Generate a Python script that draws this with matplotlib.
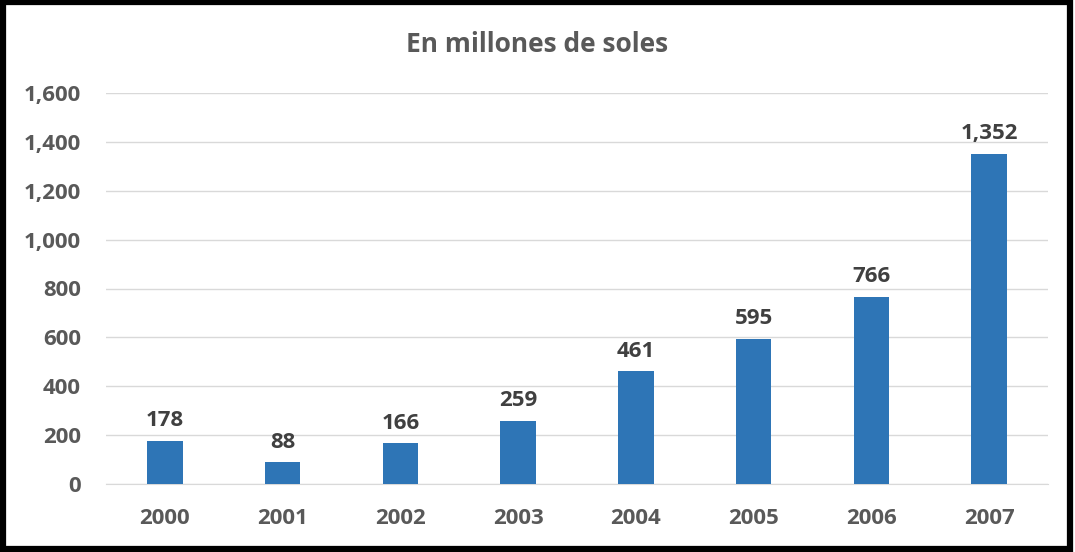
import matplotlib
matplotlib.use("Agg")
import matplotlib.pyplot as plt
from matplotlib.patches import Rectangle

years = ["2000", "2001", "2002", "2003", "2004", "2005", "2006", "2007"]
values = [178, 88, 166, 259, 461, 595, 766, 1352]
yticks = [0, 200, 400, 600, 800, 1000, 1200, 1400, 1600]

plt.rcParams["font.family"] = ["Open Sans", "DejaVu Sans"]
text_color = "#595959"
bar_color = "#2E75B6"

fig = plt.figure(figsize=(10.75, 5.52), dpi=100)
ax = fig.add_axes([106 / 1075, 1 - 484 / 552, (1048 - 106) / 1075, (484 - 93) / 552])

x = range(len(years))
ax.bar(x, values, width=0.30, color=bar_color, zorder=3)
for xi, v in zip(x, values):
    ax.annotate(f"{v:,}", (xi, v), xytext=(0, 7), textcoords="offset points",
                ha="center", va="bottom", fontsize=16, fontweight="bold",
                color="#404040")

ax.set_xlim(-0.5, len(years) - 0.5)
ax.set_ylim(0, 1600)
ax.set_yticks(yticks)
ax.set_yticklabels([f"{t:,}" for t in yticks])
ax.set_xticks(list(x))
ax.set_xticklabels(years)
ax.grid(axis="y", color="#D9D9D9", linewidth=1, zorder=0)
for s in ["top", "right", "left"]:
    ax.spines[s].set_visible(False)
ax.spines["bottom"].set_color("#D9D9D9")
ax.tick_params(axis="both", length=0, labelsize=16, labelcolor=text_color)
ax.tick_params(axis="y", pad=18)
ax.tick_params(axis="x", pad=17)
for lbl in ax.get_xticklabels() + ax.get_yticklabels():
    lbl.set_fontweight("bold")

fig.text(0.5, 1 - 45 / 552, "En millones de soles", ha="center", va="center",
         fontsize=19, fontweight="bold", color=text_color)

# outer frame
fig.patches.append(Rectangle((0.003, 0.006), 0.992, 0.99, transform=fig.transFigure,
                             fill=False, edgecolor="black", linewidth=4.5))

fig.savefig("out.png", dpi=100)
